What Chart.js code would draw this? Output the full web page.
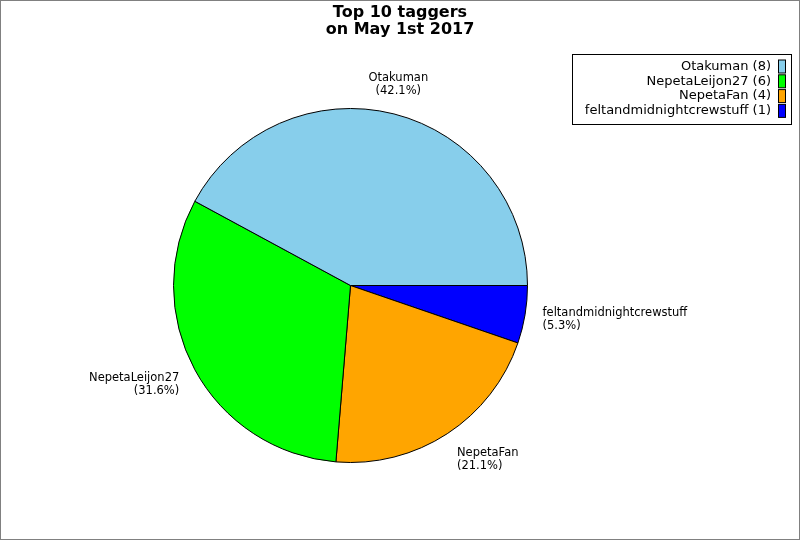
<!DOCTYPE html>
<html>
<head>
<meta charset="utf-8">
<script src="https://cdn.jsdelivr.net/npm/chart.js@4.4.0/dist/chart.umd.min.js"></script>
<style>
    html, body { margin: 0; padding: 0; background: #fff; }
    canvas { display: block; }
</style>
</head>
<body>
<canvas id="pie-chart" width="800" height="540"></canvas>
<script>
const titleLines = ["Top 10 taggers", "on May 1st 2017"];
const taggers = ["Otakuman", "NepetaLeijon27", "NepetaFan", "feltandmidnightcrewstuff"];
const tagCounts = [8, 6, 4, 1];
const sliceColors = ["#87ceeb", "#00ff00", "#ffa500", "#0000ff"];

const total = tagCounts.reduce((a, b) => a + b, 0);
const percents = tagCounts.map(c => (c / total * 100).toFixed(1) + "%");

// slices run counter-clockwise from 3 o'clock, so feed them reversed
const order = taggers.map((_, i) => i).reverse();

const FONT = "'DejaVu Sans', sans-serif";

const decorations = {
    id: "decorations",
    beforeDraw(chart) {
        const ctx = chart.ctx;
        ctx.save();
        ctx.fillStyle = "#fff";
        ctx.fillRect(0, 0, chart.width, chart.height);
        ctx.restore();
    },
    afterDraw(chart) {
        const ctx = chart.ctx;
        ctx.save();

        // outer frame
        ctx.strokeStyle = "#808080";
        ctx.lineWidth = 1;
        ctx.strokeRect(0.5, 0.5, chart.width - 1, chart.height - 1);

        // title
        ctx.fillStyle = "#000";
        ctx.font = "bold 16px " + FONT;
        ctx.textAlign = "center";
        ctx.textBaseline = "middle";
        titleLines.forEach((t, i) => ctx.fillText(t, 400, 12.5 + i * 17));

        // slice labels
        const meta = chart.getDatasetMeta(0);
        ctx.font = "11.5px " + FONT;
        meta.data.forEach((arc, j) => {
            const i = order[j];
            const mid = (arc.startAngle + arc.endAngle) / 2;
            const r = arc.outerRadius * 1.10;
            const ax = arc.x + Math.cos(mid) * r;
            const ay = arc.y + Math.sin(mid) * r;
            const c = Math.cos(mid);
            ctx.textAlign = c > 0.3 ? "left" : (c < -0.3 ? "right" : "center");
            const h = 26;
            const cy = ay + (h / 2) * Math.sin(mid);
            ctx.fillText(taggers[i], ax, cy - 6.5);
            ctx.fillText("(" + percents[i] + ")", ax, cy + 6.5);
        });

        // legend
        ctx.strokeStyle = "#000";
        ctx.strokeRect(572.5, 54.5, 219, 70);
        ctx.font = "13px " + FONT;
        ctx.textAlign = "right";
        taggers.forEach((name, i) => {
            const y = 66.5 + i * 14.8;
            ctx.fillStyle = "#000";
            ctx.fillText(name + " (" + tagCounts[i] + ")", 771, y);
            ctx.fillStyle = sliceColors[i];
            ctx.fillRect(778.5, y - 6.5, 7, 13);
            ctx.strokeRect(778.5, y - 6.5, 7, 13);
        });

        ctx.restore();
    }
};

new Chart(document.getElementById("pie-chart").getContext("2d"), {
    type: "pie",
    data: {
        labels: order.map(i => taggers[i]),
        datasets: [{
            data: order.map(i => tagCounts[i]),
            backgroundColor: order.map(i => sliceColors[i]),
            borderColor: "#000",
            borderWidth: 1
        }]
    },
    options: {
        responsive: false,
        animation: false,
        rotation: 90,
        layout: {
            padding: { left: 173, right: 272, top: 108, bottom: 77 }
        },
        plugins: {
            legend: { display: false },
            title: { display: false },
            tooltip: { enabled: false }
        }
    },
    plugins: [decorations]
});
</script>
</body>
</html>
